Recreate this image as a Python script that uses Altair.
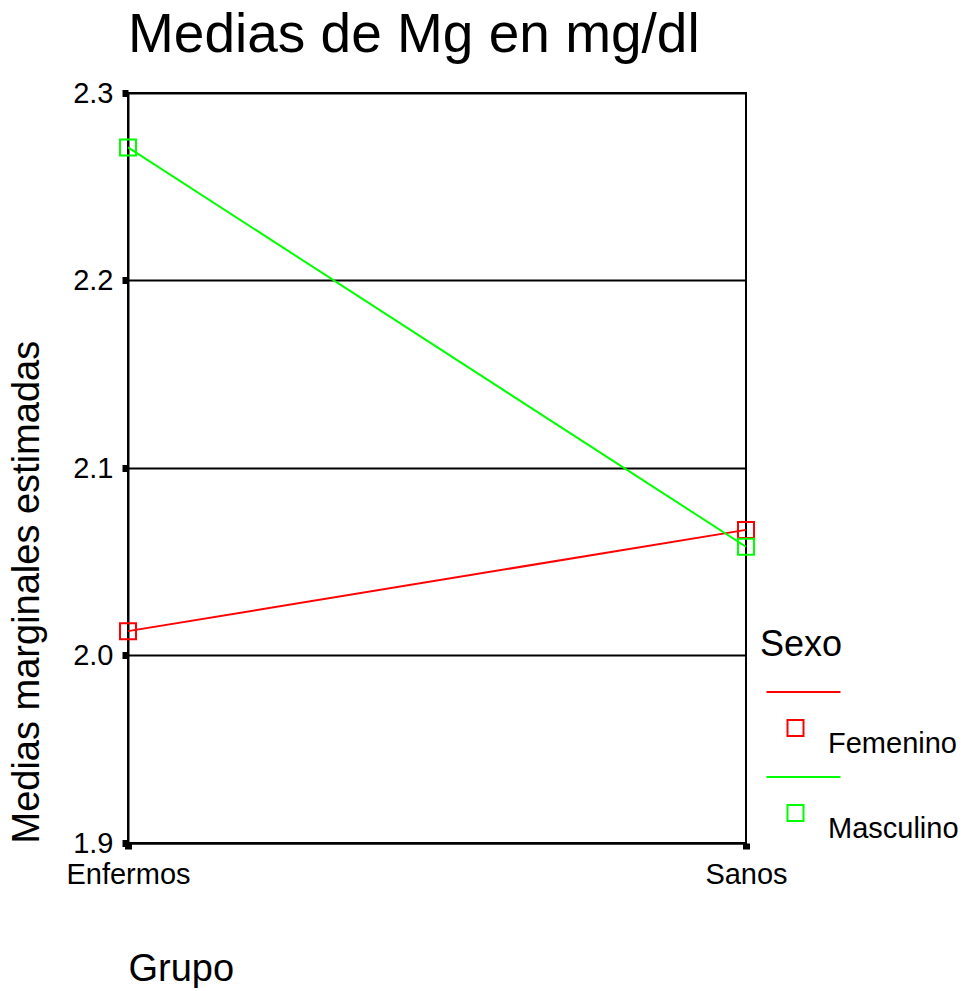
import altair as alt
import pandas as pd

grupos = ["Enfermos", "Sanos"]
sexos = ["Femenino", "Masculino"]
femenino = [2.013, 2.067]
masculino = [2.271, 2.058]
y_ticks = [1.9, 2.0, 2.1, 2.2, 2.3]
colores = ["#FF0000", "#00FF00"]

rows = []
for s, vals in zip(sexos, [femenino, masculino]):
    for g, v in zip(grupos, vals):
        rows.append({"Grupo": g, "Sexo": s, "Media": v})
df = pd.DataFrame(rows)

FONT = "Liberation Sans"
# legend symbol: a line above a small open square
SYM = "M-0.833,-1.576H1.409M-0.197,-0.727H0.288V-0.242H-0.197Z"

x = alt.X(
    "Grupo:N",
    sort=grupos,
    scale=alt.Scale(type="point", padding=0),
    axis=alt.Axis(
        title="Grupo", labelAngle=0, titleAnchor="start", titlePadding=61,
        labelPadding=11, tickSize=6, tickWidth=7, tickColor="black",
        domainColor="black", domainWidth=2, grid=False,
        labelFontSize=29, titleFontSize=38, labelFont=FONT, titleFont=FONT,
        labelColor="black", titleColor="black", titleFontWeight="normal",
    ),
)
y = alt.Y(
    "Media:Q",
    scale=alt.Scale(domain=[1.9, 2.3], nice=False, zero=False),
    axis=alt.Axis(
        title="Medias marginales estimadas", values=y_ticks, format=".1f",
        grid=True, gridColor="black", gridWidth=2, gridOpacity=1,
        titleAnchor="start", titlePadding=26, labelPadding=9,
        tickSize=6, tickWidth=7, tickColor="black",
        domainColor="black", domainWidth=2,
        labelFontSize=29, titleFontSize=38, labelFont=FONT, titleFont=FONT,
        labelColor="black", titleColor="black", titleFontWeight="normal",
    ),
)
legend = alt.Legend(
    title="Sexo", orient="none", legendX=632, legendY=535,
    symbolType=SYM, symbolSize=66 * 66, symbolStrokeWidth=2,
    symbolFillColor="transparent", labelOffset=0, rowPadding=13,
    titlePadding=46, padding=0,
    labelFontSize=29, titleFontSize=36, labelFont=FONT, titleFont=FONT,
    labelColor="black", titleColor="black", titleFontWeight="normal",
)
color = alt.Color("Sexo:N", scale=alt.Scale(domain=sexos, range=colores), legend=legend)

base = alt.Chart(df)
lines = base.mark_line(strokeWidth=2).encode(x=x, y=y, color=color)
points = base.mark_point(shape="square", size=256, filled=False, strokeWidth=2, opacity=1).encode(
    x=x, y=y, color=color
)

chart = (
    alt.layer(lines, points)
    .properties(
        width=618, height=750, padding=0, background="white",
        title=alt.TitleParams(
            "Medias de Mg en mg/dl", anchor="start", frame="group", fontSize=55, font=FONT,
            fontWeight="normal", color="black", offset=15,
        ),
    )
    .configure_view(stroke="black", strokeWidth=2)
)

chart.save("out.html", embed_options={"renderer": "svg", "actions": False})
